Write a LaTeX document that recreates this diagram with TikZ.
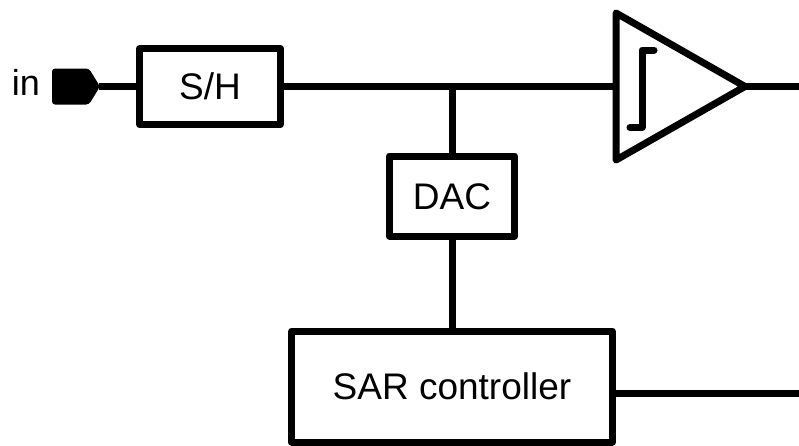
\documentclass[tikz,border=0pt]{standalone}
\usepackage{fontspec}
\setmainfont{Liberation Sans}
\begin{document}
\begin{tikzpicture}[x=1pt,y=-1pt,
  wire/.style={line width=7pt,line join=round},
  blockbox/.style={draw,line width=7pt,line join=round,inner sep=0pt,
    font=\fontsize{37pt}{40pt}\selectfont,text height=26.5pt,text depth=0pt},
  lbl/.style={font=\fontsize{36pt}{40pt}\selectfont,inner sep=0pt}]
\useasboundingbox (0,0) rectangle (799,445);
% input pin
\fill[rounded corners=3pt] (52,68.5) -- (89,68.5) -- (100,86.5) -- (89,104.5) -- (52,104.5) -- cycle;
\coordinate (pin) at (99,86.5);
\node[lbl,anchor=base] (inlbl) at (26,95) {in};
% blocks
\node[blockbox,minimum width=140.5pt,minimum height=76pt] (sh) at (210,86.5) {S/H};
\node[blockbox,minimum width=125.5pt,minimum height=80pt] (dac) at (452,196) {DAC};
\node[blockbox,minimum width=320.5pt,minimum height=111pt] (sar) at (452,386.5) {SAR controller};
% comparator
\coordinate (ct) at (616,13);
\coordinate (cb) at (616,160);
\coordinate (ca) at (745,86.5);
\coordinate (cin) at (616,86.5);
\draw[wire] (ct) -- (cb) -- (ca) -- cycle;
\draw[line width=7pt,line cap=round,line join=round] (654,50) -- (642,50) -- (642,127.5) -- (630,127.5);
% connectors
\coordinate (jn) at (452,86.5);
\coordinate (outc) at (800,86.5);
\coordinate (outs) at (800,393);
\draw[wire] (pin) -- (sh.west);
\draw[wire] (sh.east) -- (cin);
\draw[wire] (jn) -- (dac.north);
\draw[wire] (dac.south) -- (sar.north);
\draw[wire] (ca) -- (outc);
\draw[wire] (sar.east |- outs) -- (outs);
\end{tikzpicture}
\end{document}
